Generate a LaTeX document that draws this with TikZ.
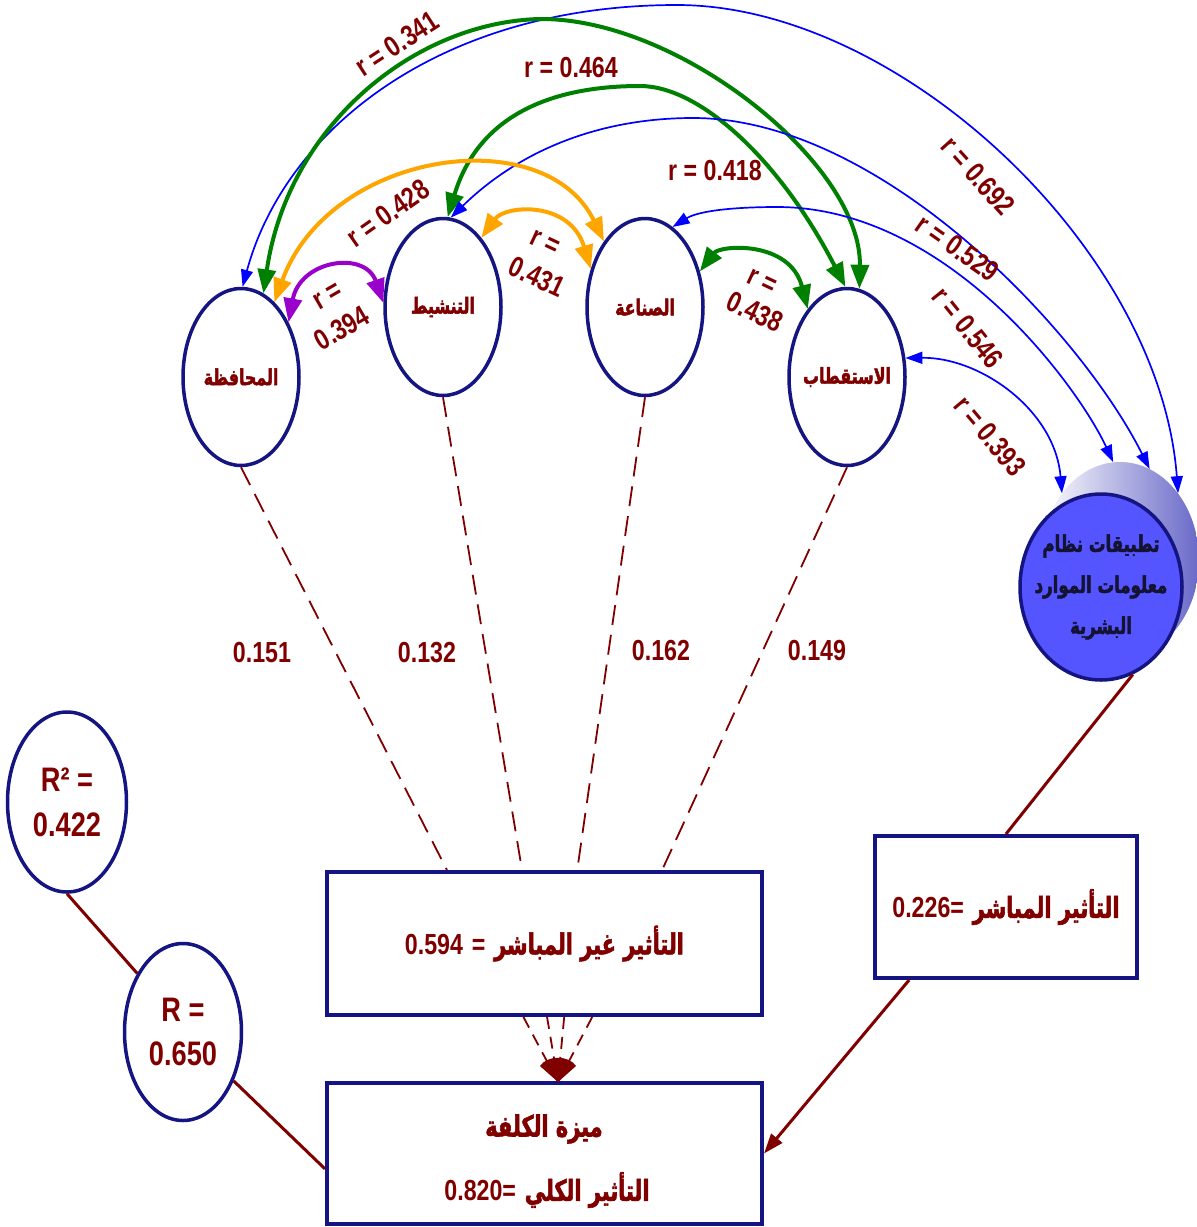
\documentclass[tikz,border=0pt]{standalone}
\usepackage{fontspec}
\usetikzlibrary{shapes.geometric,arrows.meta}
\TeXXeTstate=1
\newfontfamily\arabicfont[Script=Arabic,FakeStretch=0.72,FakeBold=2]{DejaVu Sans}
\newfontfamily\numfont[FakeStretch=0.8]{Liberation Sans}
\newcommand{\artxt}[1]{{\arabicfont\bfseries #1}}
\newcommand{\nm}[1]{\beginL{\numfont\bfseries #1}\endL}
\newcommand{\zbox}[1]{\makebox[0pt]{#1}}
\definecolor{navyb}{RGB}{20,20,130}
\definecolor{mar}{RGB}{128,0,0}
\definecolor{bl}{RGB}{0,0,255}
\definecolor{gr}{RGB}{0,128,0}
\definecolor{orn}{RGB}{255,165,0}
\definecolor{pur}{RGB}{153,0,204}
\definecolor{cfill}{RGB}{85,85,255}
\definecolor{shadc}{RGB}{105,105,200}
\definecolor{ctext}{RGB}{20,20,50}
\begin{document}
\begin{tikzpicture}[x=1pt,y=-1pt,
  ell/.style={ellipse,draw=navyb,line width=3.5pt,fill=white,inner sep=0pt,
    minimum width=116pt,minimum height=177pt,text=mar,
    font=\arabicfont\bfseries\fontsize{22}{24}\selectfont},
  boxst/.style={rectangle,draw=navyb,line width=4pt,fill=white,inner sep=0pt,text=mar},
  lab/.style={text=mar,inner sep=0pt,font=\numfont\bfseries\fontsize{29}{31}\selectfont},
  thk/.style={line width=4pt,arrows={Triangle[length=24pt,width=18pt]-Triangle[length=24pt,width=18pt]}},
  thn/.style={color=bl,line width=1.7pt,arrows={Triangle[length=17pt,width=12pt]-Triangle[length=17pt,width=12pt]}},
  dsh/.style={draw=mar,line width=1.8pt,dash pattern=on 20pt off 10pt},
  dshb/.style={draw=mar,line width=1.8pt,dash pattern=on 12pt off 8pt},
  sol/.style={draw=mar,line width=3pt}]
\fill[white] (0,0) rectangle (1197,1227);
\useasboundingbox (0,0) rectangle (1197,1227);

% latent nodes
\node[ell] (hafz) at (241,377) {\zbox{\beginR المحافظة\endR}};
\node[ell] (tansh) at (443,307) {\zbox{\beginR التنشيط\endR}};
\node[ell] (sinaa) at (645,307) {\zbox{\beginR الصناعة\endR}};
\node[ell] (istiq) at (847,377) {\zbox{\beginR الاستقطاب\endR}};

% HRIS circle with shadow
\node[ellipse,inner sep=0pt,minimum width=158pt,minimum height=196pt,
  left color=white,right color=shadc] (shad) at (1120,560) {};
\node[ellipse,draw=navyb,line width=3.5pt,fill=cfill,inner sep=0pt,
  minimum width=162pt,minimum height=186pt,text=ctext,align=center,
  font=\arabicfont\bfseries\fontsize{23}{41}\selectfont] (circ) at (1101,587)
  {\zbox{\beginR تطبيقات نظام\endR}\\\zbox{\beginR معلومات الموارد\endR}\\\zbox{\beginR البشرية\endR}};

% R circles
\node[ell,minimum width=119pt,minimum height=180pt,align=center,
  font=\numfont\bfseries\fontsize{34}{45}\selectfont] (r2) at (67,802) {R² =\\0.422};
\node[ell,minimum width=117pt,minimum height=177pt,align=center,
  font=\numfont\bfseries\fontsize{34}{44}\selectfont] (rr) at (183,1032) {R =\\0.650};

% boxes
\node[boxst,minimum width=435pt,minimum height=143pt,
  font=\fontsize{29}{31}\selectfont] (ind) at (544.5,943.5)
  {\beginR\artxt{التأثير غير المباشر} \nm{=} \nm{0.594}\endR};
\node[boxst,minimum width=262pt,minimum height=142pt,
  font=\fontsize{29}{31}\selectfont] (direct) at (1006,907)
  {\beginR\artxt{التأثير المباشر} \nm{0.226=}\endR};
\node[boxst,minimum width=435pt,minimum height=141pt] (total) at (544.5,1153.5) {};
\node[text=mar,inner sep=0pt,font=\fontsize{29}{31}\selectfont] (tot1) at (544,1129)
  {\beginR\artxt{ميزة الكلفة}\endR};
\node[text=mar,inner sep=0pt,font=\fontsize{29}{31}\selectfont] (tot2) at (547,1190)
  {\beginR\artxt{التأثير الكلي} \nm{0.820=}\endR};

% dashed paths to indirect box
\draw[dsh] (hafz.south) -- (ind.143);
\draw[dsh] (tansh.south) -- (ind.107.5);
\draw[dsh] (sinaa.south) -- (ind.66);
\draw[dsh] (istiq.south) -- (ind.32);

% path coefficients
\node[lab] (p1) at (262,653) {0.151};
\node[lab] (p2) at (427,653) {0.132};
\node[lab] (p3) at (661,651) {0.162};
\node[lab] (p4) at (817,651) {0.149};

% fan from indirect to total
\coordinate (fanapex) at (558,1082);
\draw[dshb] (ind.-106.7) -- (fanapex);
\draw[dshb] (ind.-88) -- (fanapex);
\draw[dshb] (ind.-75.5) -- (fanapex);
\draw[dshb] (ind.-57.5) -- (fanapex);
\fill[mar] (fanapex) -- (540,1066) .. controls (547,1055) and (569,1055) .. (576,1066) -- cycle;

% solid connectors
\draw[sol] (circ.-70) -- (direct.north);
\draw[sol,-{Triangle[length=20pt,width=14pt]}] (direct.-143) -- (total.east);
\draw[sol] (r2.south) -- (rr.128);
\draw[sol] (rr.-44) -- (total.-176);

% correlation arcs
\draw[thn] (hafz.89) .. controls (285,130) and (440,5) .. (677,5) .. controls (900,5) and (1160,250) .. (shad.49);
\draw[thk,color=gr] (hafz.75) .. controls (288,125) and (415,22) .. (540,19) .. controls (680,18) and (862,165) .. (istiq.82);
\draw[thk,color=gr] (tansh.87) .. controls (480,110) and (560,86) .. (640,86) .. controls (700,86) and (780,160) .. (istiq.91);
\draw[thn] (tansh.85) .. controls (520,150) and (600,118) .. (693,118) .. controls (880,118) and (1080,330) .. (shad.72);
\draw[thn] (sinaa.71) .. controls (700,210) and (740,207) .. (777,207) .. controls (950,207) and (1080,390) .. (shad.94);
\draw[thn] (istiq.18) .. controls (980,357) and (1055,410) .. (shad.131);
\draw[thk,color=orn] (hafz.66) .. controls (330,150) and (545,120) .. (sinaa.122);
\draw[thk,color=orn] (tansh.61) .. controls (505,205) and (570,200) .. (sinaa.145);
\draw[thk,color=pur] (hafz.49) .. controls (300,260) and (365,250) .. (tansh.176);
\draw[thk,color=gr] (sinaa.33) .. controls (720,245) and (790,240) .. (istiq.120);

% correlation labels
\node[lab,rotate=33] (l341) at (397,44) {r = 0.341};
\node[lab] (l464) at (571,68) {r = 0.464};
\node[lab,rotate=35] (l428) at (388,213) {r = 0.428};
\node[lab,rotate=30] (l394a) at (328,296) {r =};
\node[lab,rotate=30] (l394b) at (342,328) {0.394};
\node[lab,rotate=-25] (l431a) at (545,243) {r =};
\node[lab,rotate=-25] (l431b) at (537,277) {0.431};
\node[lab] (l418) at (715,171) {r = 0.418};
\node[lab,rotate=-25] (l438a) at (762,282) {r =};
\node[lab,rotate=-25] (l438b) at (755,312) {0.438};
\node[lab,rotate=-48] (l692) at (978,176) {r = 0.692};
\node[lab,rotate=-35] (l529) at (958,248) {r = 0.529};
\node[lab,rotate=-51] (l546) at (968,328) {r = 0.546};
\node[lab,rotate=-50] (l393) at (990,436) {r = 0.393};
\end{tikzpicture}
\end{document}
